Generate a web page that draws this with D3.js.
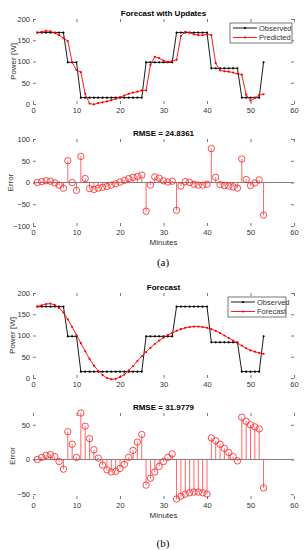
<!DOCTYPE html>
<html>
<head>
<meta charset="utf-8">
<script src="https://cdn.jsdelivr.net/npm/d3@7"></script>
<style>
  body { margin: 0; background: #fff; }
  svg { display: block; font-family: "Liberation Sans", Arial, sans-serif; }
</style>
</head>
<body>
<svg id="chart" width="305" height="550"></svg>
<script>
// minutes 1..53
const minutes = d3.range(1, 54);
const xTicks = [0, 10, 20, 30, 40, 50, 60];

const observed = [168, 168, 168, 168, 168, 168, 168, 98, 98, 98,
  15, 15, 15, 15, 15, 15, 15, 15, 15, 15, 15, 15, 15, 15, 15,
  98, 98, 98, 98, 98, 98, 98,
  168, 168, 168, 168, 168, 168, 168, 168,
  84, 84, 84, 84, 84, 84, 84,
  15, 15, 15, 15, 15, 98];

// (a) forecast with updates
const predicted = [168, 170, 172, 171, 167, 162, 155, 148, 98, 80,
  75, 24, 1, -1, 2, 4, 6, 9, 12, 16, 20, 24, 27, 29, 32,
  32, 92, 111, 108, 102, 99, 101,
  104, 160, 170, 168, 164, 162, 162, 164,
  162, 96, 79, 77, 76, 74, 71,
  69, 22, 8, 14, 21, 23];
const errorA = [0, 2, 4, 3, -1, -6, -13, 50, 0, -18,
  60, 9, -14, -16, -13, -11, -9, -6, -3, 1, 5, 9, 12, 14, 17,
  -66, -6, 13, 10, 4, 1, 3,
  -64, -8, 2, 0, -4, -6, -6, -4,
  78, 12, -5, -7, -8, -10, -13,
  54, 7, -7, -1, 6, -75];

// (b) plain forecast
const forecast = [168, 171, 174, 175, 172, 165, 154, 138, 120, 101,
  82, 63, 45, 29, 17, 7, 0, -3, -2, 2, 8, 18, 28, 40, 51,
  61, 71, 80, 88, 95, 101, 106,
  111, 115, 118, 120, 121, 121, 120, 118,
  115, 111, 106, 100, 94, 88, 82,
  76, 70, 65, 62, 59, 57];
const errorB = [0, 3, 6, 7, 4, -3, -14, 40, 22, 3,
  67, 48, 30, 14, 2, -8, -15, -18, -17, -13, -7, 3, 13, 25, 36,
  -37, -27, -18, -10, -3, 3, 8,
  -57, -53, -50, -48, -47, -47, -48, -50,
  31, 27, 22, 16, 10, 4, -2,
  61, 55, 50, 47, 44, -41];

const svg = d3.select("#chart");
const axisColor = "#555";
const textColor = "#333";

function panel(top, bottom, yDomain, yTicks, title, yLabel, yLabelX, xLabel) {
  const x = d3.scaleLinear().domain([0, 60]).range([33, 294]);
  const y = d3.scaleLinear().domain(yDomain).range([bottom, top]);
  const g = svg.append("g");

  g.append("rect")
    .attr("x", 33).attr("y", top)
    .attr("width", 261).attr("height", bottom - top)
    .attr("fill", "#fff");

  const style = sel => {
    sel.select(".domain").remove();
    sel.selectAll("line").attr("stroke", axisColor).attr("stroke-width", 0.8);
    sel.selectAll("text").attr("fill", textColor).style("font-size", "7.5px");
  };

  g.append("g").attr("transform", `translate(0,${bottom})`)
    .call(d3.axisBottom(x).tickValues(xTicks).tickSize(-3).tickPadding(4))
    .call(style);
  g.append("g").attr("transform", `translate(0,${top})`)
    .call(d3.axisTop(x).tickValues(xTicks).tickSize(-3).tickFormat(""))
    .call(style);
  g.append("g").attr("transform", `translate(33,0)`)
    .call(d3.axisLeft(y).tickValues(yTicks).tickSize(-3).tickPadding(3))
    .call(style);
  g.append("g").attr("transform", `translate(294,0)`)
    .call(d3.axisRight(y).tickValues(yTicks).tickSize(-3).tickFormat(""))
    .call(style);

  g.append("text")
    .attr("x", 163.5).attr("y", top - 3)
    .attr("text-anchor", "middle")
    .attr("font-weight", "bold")
    .attr("font-size", 8)
    .attr("fill", "#000")
    .text(title);

  g.append("text")
    .attr("transform", `translate(${yLabelX},${(top + bottom) / 2}) rotate(-90)`)
    .attr("text-anchor", "middle")
    .attr("font-size", 8)
    .attr("fill", textColor)
    .text(yLabel);

  if (xLabel) {
    g.append("text")
      .attr("x", 163.5).attr("y", bottom + 19)
      .attr("text-anchor", "middle")
      .attr("font-size", 8)
      .attr("fill", textColor)
      .text(xLabel);
  }
  return { g, x, y, top, bottom };
}

function series(p, values, color) {
  const line = d3.line().x((d, i) => p.x(minutes[i])).y(d => p.y(d));
  p.g.append("path")
    .attr("d", line(values))
    .attr("fill", "none")
    .attr("stroke", color)
    .attr("stroke-width", 0.9);
  p.g.append("g").selectAll("circle")
    .data(values)
    .join("circle")
    .attr("cx", (d, i) => p.x(minutes[i]))
    .attr("cy", d => p.y(d))
    .attr("r", 1.1)
    .attr("fill", color);
}

function stems(p, values) {
  p.g.append("line")
    .attr("x1", 33).attr("x2", 294)
    .attr("y1", p.y(0)).attr("y2", p.y(0))
    .attr("stroke", "#808080")
    .attr("stroke-width", 1);
  p.g.append("g").selectAll("line")
    .data(values)
    .join("line")
    .attr("x1", (d, i) => p.x(minutes[i]))
    .attr("x2", (d, i) => p.x(minutes[i]))
    .attr("y1", p.y(0))
    .attr("y2", d => p.y(d))
    .attr("stroke", "#ff4040")
    .attr("stroke-width", 0.8);
  p.g.append("g").selectAll("circle")
    .data(values)
    .join("circle")
    .attr("cx", (d, i) => p.x(minutes[i]))
    .attr("cy", d => p.y(d))
    .attr("r", 3.2)
    .attr("fill", "none")
    .attr("stroke", "#ff2020")
    .attr("stroke-width", 0.8);
}

function legend(p, x0, y0, w, h, items) {
  const lg = p.g.append("g");
  lg.append("rect")
    .attr("x", x0).attr("y", y0).attr("width", w).attr("height", h)
    .attr("fill", "#fff").attr("stroke", axisColor).attr("stroke-width", 0.8);
  items.forEach((it, i) => {
    const cy = y0 + 5 + i * 9.5;
    lg.append("line")
      .attr("x1", x0 + 3).attr("x2", x0 + 27)
      .attr("y1", cy).attr("y2", cy)
      .attr("stroke", it.color).attr("stroke-width", 0.9);
    lg.append("circle")
      .attr("cx", x0 + 15).attr("cy", cy).attr("r", 1.1).attr("fill", it.color);
    lg.append("text")
      .attr("x", x0 + 29).attr("y", cy)
      .attr("dy", "0.35em")
      .attr("font-size", 7.5)
      .attr("fill", textColor)
      .text(it.label);
  });
}

// (a)
const p1 = panel(19, 104, [0, 200], [0, 50, 100, 150, 200], "Forecast with Updates", "Power [W]", 16, null);
series(p1, observed, "#000");
series(p1, predicted, "#ff0000");
legend(p1, 230, 23, 62, 20, [{ label: "Observed", color: "#000" }, { label: "Predicted", color: "#ff0000" }]);

const p2 = panel(139, 226, [-100, 100], [-100, -50, 0, 50, 100], "RMSE = 24.8361", "Error", 13, "Minutes");
stems(p2, errorA);

svg.append("text")
  .attr("x", 163).attr("y", 266)
  .attr("text-anchor", "middle")
  .attr("font-family", "'Liberation Serif', 'DejaVu Serif', serif")
  .attr("font-size", 11)
  .attr("fill", "#000")
  .text("(a)");

// (b)
const p3 = panel(293, 378, [0, 200], [0, 50, 100, 150, 200], "Forecast", "Power [W]", 15, null);
series(p3, observed, "#000");
series(p3, forecast, "#ff0000");
legend(p3, 228, 297, 58, 20, [{ label: "Observed", color: "#000" }, { label: "Forecast", color: "#ff0000" }]);

const p4 = panel(413, 499, d3.extent(errorB), [-50, 0, 50], "RMSE = 31.9779", "Error", 15, "Minutes");
stems(p4, errorB);

svg.append("text")
  .attr("x", 163).attr("y", 547)
  .attr("text-anchor", "middle")
  .attr("font-family", "'Liberation Serif', 'DejaVu Serif', serif")
  .attr("font-size", 11)
  .attr("fill", "#000")
  .text("(b)");
</script>
</body>
</html>
